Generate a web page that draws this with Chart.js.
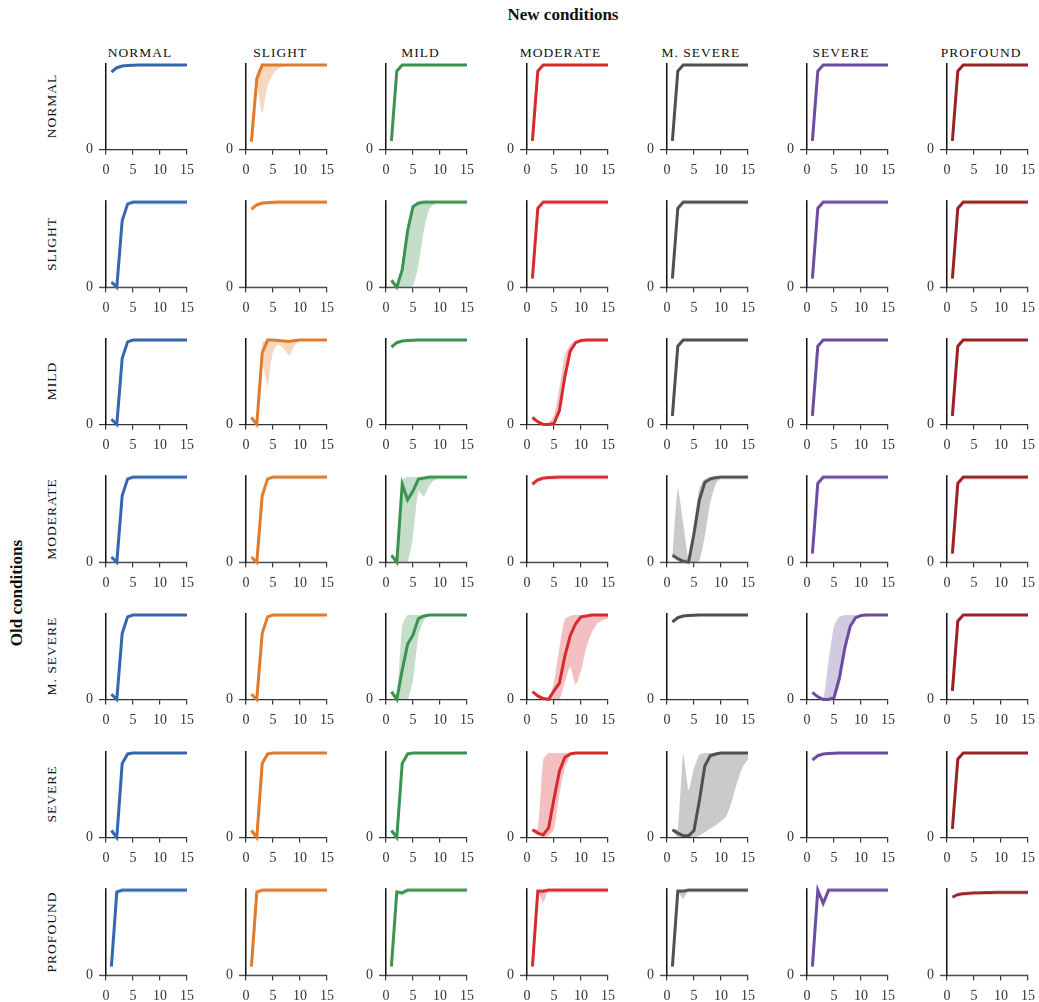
<!DOCTYPE html>
<html>
<head>
<meta charset="utf-8">
<script src="https://cdn.jsdelivr.net/npm/chart.js@4.4.1/dist/chart.umd.min.js"></script>
<style>
body { margin:0; background:#fff; width:1039px; height:1002px; position:relative; overflow:hidden; font-family:"Liberation Serif", serif; color:#111; }
canvas.panel { position:absolute; }
.coltitle { position:absolute; top:45px; width:130px; text-align:center; font-size:13.5px; letter-spacing:1px; }
.rowtitle { position:absolute; width:130px; height:16px; line-height:16px; text-align:center; font-size:13.5px; letter-spacing:1px; transform:rotate(-90deg); }
.bigtitle { position:absolute; font-weight:bold; font-size:17px; }
</style>
</head>
<body>
<div class="bigtitle" style="left:463px;top:5px;width:200px;text-align:center;">New conditions</div>
<div class="bigtitle" style="left:-83px;top:583px;width:200px;height:20px;text-align:center;transform:rotate(-90deg);">Old conditions</div>
<script>
// conditions (rows = old, columns = new)
var newConditions = ["NORMAL", "SLIGHT", "MILD", "MODERATE", "M. SEVERE", "SEVERE", "PROFOUND"];
var oldConditions = ["NORMAL", "SLIGHT", "MILD", "MODERATE", "M. SEVERE", "SEVERE", "PROFOUND"];
var colColors = ["#3466b2", "#e07b2c", "#3b9350", "#d62a2e", "#505050", "#6b4ca0", "#9a2226"];
var colBands  = ["rgba(52,102,178,0.3)", "rgba(224,123,44,0.3)", "rgba(59,147,80,0.3)", "rgba(214,42,46,0.3)", "rgba(80,80,80,0.3)", "rgba(107,76,160,0.3)", "rgba(154,34,38,0.3)"];

var steps = [1,2,3,4,5,6,7,8,9,10,11,12,13,14,15];

// shared profiles
var diagFlat      = [0.90,0.95,0.97,0.975,0.978,0.98,0.98,0.98,0.98,0.98,0.98,0.98,0.98,0.98,0.98];
var diagProfound  = [0.90,0.93,0.94,0.945,0.948,0.95,0.952,0.953,0.954,0.955,0.955,0.955,0.956,0.956,0.956];
var jumpUp        = [0.10,0.91,0.98,0.98,0.98,0.98,0.98,0.98,0.98,0.98,0.98,0.98,0.98,0.98,0.98];
var jumpUpProfound= [0.10,0.96,0.98,0.98,0.98,0.98,0.98,0.98,0.98,0.98,0.98,0.98,0.98,0.98,0.98];
var dipUp         = [0.06,0.00,0.77,0.96,0.98,0.98,0.98,0.98,0.98,0.98,0.98,0.98,0.98,0.98,0.98];
var dipUpSevere   = [0.08,0.00,0.86,0.97,0.98,0.98,0.98,0.98,0.98,0.98,0.98,0.98,0.98,0.98,0.98];

// panels with spread bands
var normalSlight     = [0.09,0.82,0.98,0.98,0.98,0.98,0.98,0.98,0.98,0.98,0.98,0.98,0.98,0.98,0.98];
var normalSlightLow  = [0.09,0.75,0.42,0.74,0.87,0.94,0.97,0.98,0.98,0.98,0.98,0.98,0.98,0.98,0.98];
var normalSlightHigh = [0.09,0.90,0.98,0.98,0.98,0.98,0.98,0.98,0.98,0.98,0.98,0.98,0.98,0.98,0.98];

var slightMild     = [0.08,0.00,0.20,0.65,0.93,0.97,0.98,0.98,0.98,0.98,0.98,0.98,0.98,0.98,0.98];
var slightMildLow  = [0.08,0.00,0.00,0.00,0.02,0.25,0.65,0.90,0.96,0.98,0.98,0.98,0.98,0.98,0.98];
var slightMildHigh = [0.08,0.02,0.28,0.72,0.95,0.98,0.98,0.98,0.98,0.98,0.98,0.98,0.98,0.98,0.98];

var mildSlight     = [0.08,0.00,0.83,0.98,0.98,0.975,0.97,0.965,0.975,0.98,0.98,0.98,0.98,0.98,0.98];
var mildSlightLow  = [0.08,0.00,0.70,0.45,0.85,0.93,0.88,0.80,0.92,0.97,0.98,0.98,0.98,0.98,0.98];
var mildSlightHigh = [0.08,0.02,0.95,0.98,0.98,0.98,0.98,0.98,0.98,0.98,0.98,0.98,0.98,0.98,0.98];

var mildModerate     = [0.08,0.03,0.00,0.00,0.01,0.16,0.55,0.85,0.95,0.975,0.98,0.98,0.98,0.98,0.98];
var mildModerateLow  = [0.08,0.03,0.00,0.00,0.00,0.12,0.50,0.82,0.94,0.97,0.98,0.98,0.98,0.98,0.98];
var mildModerateHigh = [0.08,0.03,0.00,0.02,0.10,0.42,0.80,0.93,0.97,0.98,0.98,0.98,0.98,0.98,0.98];

var moderateMild     = [0.08,0.00,0.90,0.72,0.82,0.96,0.97,0.98,0.98,0.98,0.98,0.98,0.98,0.98,0.98];
var moderateMildLow  = [0.08,0.00,0.00,0.00,0.30,0.82,0.76,0.88,0.95,0.98,0.98,0.98,0.98,0.98,0.98];
var moderateMildHigh = [0.08,0.05,0.95,0.98,0.98,0.98,0.98,0.98,0.98,0.98,0.98,0.98,0.98,0.98,0.98];

var moderateMSevere     = [0.08,0.04,0.01,0.00,0.33,0.72,0.92,0.96,0.975,0.98,0.98,0.98,0.98,0.98,0.98];
var moderateMSevereLow  = [0.08,0.02,0.00,0.00,0.00,0.02,0.30,0.68,0.90,0.97,0.98,0.98,0.98,0.98,0.98];
var moderateMSevereHigh = [0.08,0.85,0.45,0.05,0.45,0.85,0.96,0.98,0.98,0.98,0.98,0.98,0.98,0.98,0.98];

var msevereMild     = [0.09,0.00,0.34,0.64,0.75,0.94,0.97,0.98,0.98,0.98,0.98,0.98,0.98,0.98,0.98];
var msevereMildLow  = [0.09,0.00,0.00,0.00,0.22,0.74,0.92,0.97,0.98,0.98,0.98,0.98,0.98,0.98,0.98];
var msevereMildHigh = [0.09,0.05,0.85,0.98,0.98,0.98,0.98,0.98,0.98,0.98,0.98,0.98,0.98,0.98,0.98];

var msevereModerate     = [0.09,0.04,0.01,0.00,0.10,0.19,0.50,0.74,0.88,0.96,0.97,0.98,0.98,0.98,0.98];
var msevereModerateLow  = [0.09,0.02,0.00,0.00,0.00,0.00,0.20,0.38,0.17,0.33,0.60,0.78,0.88,0.92,0.94];
var msevereModerateHigh = [0.09,0.04,0.01,0.00,0.20,0.60,0.93,0.97,0.98,0.98,0.98,0.98,0.98,0.98,0.98];

var msevereSevere     = [0.08,0.03,0.00,0.00,0.02,0.25,0.60,0.85,0.95,0.975,0.98,0.98,0.98,0.98,0.98];
var msevereSevereLow  = [0.08,0.03,0.00,0.00,0.00,0.15,0.50,0.80,0.93,0.97,0.98,0.98,0.98,0.98,0.98];
var msevereSevereHigh = [0.08,0.03,0.00,0.45,0.85,0.96,0.98,0.98,0.98,0.98,0.98,0.98,0.98,0.98,0.98];

var severeModerate     = [0.09,0.05,0.03,0.11,0.45,0.77,0.93,0.97,0.98,0.98,0.98,0.98,0.98,0.98,0.98];
var severeModerateLow  = [0.09,0.03,0.00,0.02,0.10,0.50,0.80,0.95,0.98,0.98,0.98,0.98,0.98,0.98,0.98];
var severeModerateHigh = [0.09,0.10,0.90,0.98,0.98,0.98,0.98,0.98,0.98,0.98,0.98,0.98,0.98,0.98,0.98];

var severeMSevere     = [0.09,0.05,0.02,0.02,0.08,0.43,0.83,0.95,0.97,0.98,0.98,0.98,0.98,0.98,0.98];
var severeMSevereLow  = [0.09,0.00,0.00,0.00,0.00,0.02,0.06,0.10,0.14,0.19,0.25,0.42,0.64,0.82,0.91];
var severeMSevereHigh = [0.09,0.10,0.97,0.55,0.80,0.96,0.98,0.98,0.98,0.98,0.98,0.98,0.98,0.98,0.98];

var profoundMild        = [0.10,0.96,0.95,0.98,0.98,0.98,0.98,0.98,0.98,0.98,0.98,0.98,0.98,0.98,0.98];
var profoundMildLow     = [0.10,0.96,0.92,0.98,0.98,0.98,0.98,0.98,0.98,0.98,0.98,0.98,0.98,0.98,0.98];
var profoundModerate    = [0.10,0.97,0.97,0.98,0.98,0.98,0.98,0.98,0.98,0.98,0.98,0.98,0.98,0.98,0.98];
var profoundModerateLow = [0.10,0.96,0.84,0.98,0.98,0.98,0.98,0.98,0.98,0.98,0.98,0.98,0.98,0.98,0.98];
var profoundMSevere     = [0.10,0.97,0.97,0.98,0.98,0.98,0.98,0.98,0.98,0.98,0.98,0.98,0.98,0.98,0.98];
var profoundMSevereLow  = [0.10,0.96,0.88,0.98,0.98,0.98,0.98,0.98,0.98,0.98,0.98,0.98,0.98,0.98,0.98];
var profoundSevere      = [0.10,0.98,0.83,0.98,0.98,0.98,0.98,0.98,0.98,0.98,0.98,0.98,0.98,0.98,0.98];

// which curve goes where
var meanGrid = [
  [diagFlat, normalSlight, jumpUp, jumpUp, jumpUp, jumpUp, jumpUp],
  [dipUp, diagFlat, slightMild, jumpUp, jumpUp, jumpUp, jumpUp],
  [dipUp, mildSlight, diagFlat, mildModerate, jumpUp, jumpUp, jumpUp],
  [dipUp, dipUp, moderateMild, diagFlat, moderateMSevere, jumpUp, jumpUp],
  [dipUp, dipUp, msevereMild, msevereModerate, diagFlat, msevereSevere, jumpUp],
  [dipUpSevere, dipUpSevere, dipUpSevere, severeModerate, severeMSevere, diagFlat, jumpUp],
  [jumpUpProfound, jumpUpProfound, profoundMild, profoundModerate, profoundMSevere, profoundSevere, diagProfound]
];
var bandGrid = {
  "0,1": [normalSlightLow, normalSlightHigh],
  "1,2": [slightMildLow, slightMildHigh],
  "2,1": [mildSlightLow, mildSlightHigh],
  "2,3": [mildModerateLow, mildModerateHigh],
  "3,2": [moderateMildLow, moderateMildHigh],
  "3,4": [moderateMSevereLow, moderateMSevereHigh],
  "4,2": [msevereMildLow, msevereMildHigh],
  "4,3": [msevereModerateLow, msevereModerateHigh],
  "4,5": [msevereSevereLow, msevereSevereHigh],
  "5,3": [severeModerateLow, severeModerateHigh],
  "5,4": [severeMSevereLow, severeMSevereHigh],
  "6,2": [profoundMildLow, profoundMild],
  "6,3": [profoundModerateLow, profoundModerate],
  "6,4": [profoundMSevereLow, profoundMSevere]
};

function pts(arr) {
  return steps.map(function (x, i) { return {x: x, y: arr[i]}; });
}

var tickFont = {family: "Liberation Serif", size: 14};
var plotW = 81, plotH = 86;

function makePanel(r, c) {
  var axisX = 106 + c * 140.2;
  var base = 149 + r * 137.6;
  var cv = document.createElement('canvas');
  cv.className = 'panel';
  cv.width = 132; cv.height = 130;
  document.body.appendChild(cv);

  var datasets = [{
    data: pts(meanGrid[r][c]),
    borderColor: colColors[c], borderWidth: 3, pointRadius: 0,
    tension: 0, fill: false, clip: false
  }];
  var band = bandGrid[r + ',' + c];
  if (band) {
    datasets.push({data: pts(band[0]), borderWidth: 0, pointRadius: 0, fill: false, tension: 0.2, clip: false});
    datasets.push({data: pts(band[1]), borderWidth: 0, pointRadius: 0, fill: '-1', backgroundColor: colBands[c], tension: 0.2, clip: false});
  }

  var chart = new Chart(cv, {
    type: 'line',
    data: {datasets: datasets},
    options: {
      responsive: false, maintainAspectRatio: false, animation: false, events: [],
      layout: {padding: {top: 8, right: 16, left: 0, bottom: 0}},
      plugins: {legend: {display: false}, tooltip: {enabled: false}},
      scales: {
        x: {
          type: 'linear', min: 0, max: 15,
          afterFit: function (s) { s.height = 34; },
          ticks: {stepSize: 5, font: tickFont, color: '#333', padding: 8, maxRotation: 0},
          grid: {drawOnChartArea: false, tickLength: 5, color: '#333', lineWidth: 1.2},
          border: {color: '#333', width: 1.3}
        },
        y: {
          min: 0, max: 1,
          afterFit: function (s) { s.width = 34; },
          afterBuildTicks: function (s) { s.ticks = [{value: 0}]; },
          ticks: {font: tickFont, color: '#333', padding: 6},
          grid: {drawOnChartArea: false, tickLength: 7, color: '#333', lineWidth: 1.2},
          border: {color: '#111', width: 1.5}
        }
      }
    }
  });
  // size the canvas so the plot area matches the grid cell
  var ca = chart.chartArea;
  chart.resize(cv.width + plotW - (ca.right - ca.left), cv.height + plotH - (ca.bottom - ca.top));
  ca = chart.chartArea;
  cv.style.left = (axisX - ca.left) + 'px';
  cv.style.top = (base - ca.bottom) + 'px';
}

for (var c = 0; c < 7; c++) {
  var t = document.createElement('div');
  t.className = 'coltitle';
  t.textContent = newConditions[c];
  t.style.left = (106 + c * 140.2 + 34 - 65) + 'px';
  document.body.appendChild(t);
}
for (var r = 0; r < 7; r++) {
  var l = document.createElement('div');
  l.className = 'rowtitle';
  l.textContent = oldConditions[r];
  l.style.left = (52 - 65) + 'px';
  l.style.top = (149 + r * 137.6 - 43 - 8) + 'px';
  document.body.appendChild(l);
}
for (var r = 0; r < 7; r++) {
  for (var c = 0; c < 7; c++) makePanel(r, c);
}
</script>
</body>
</html>
